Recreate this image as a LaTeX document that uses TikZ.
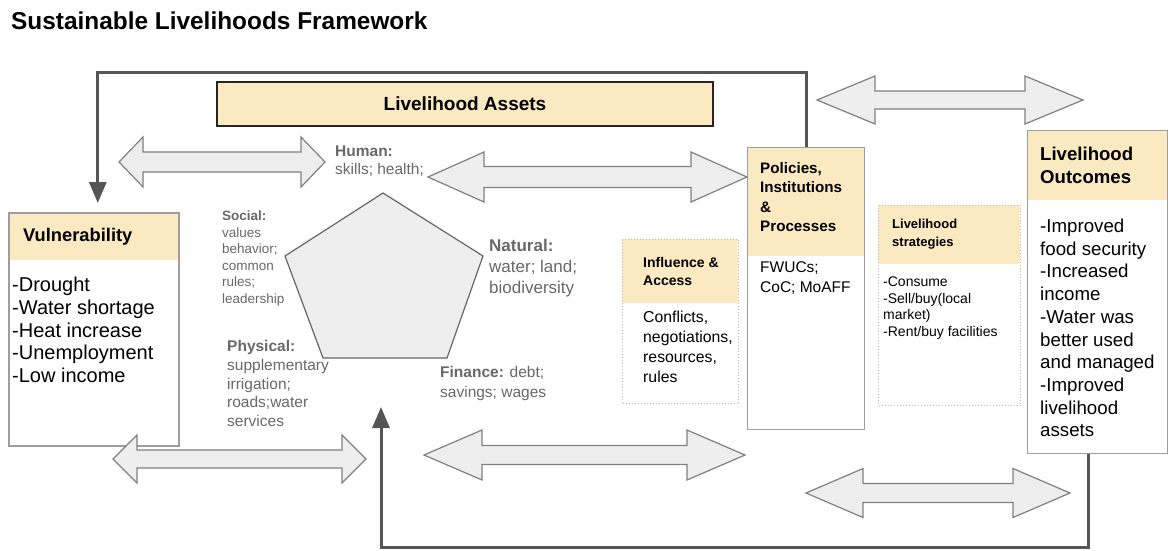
\documentclass[tikz,border=0pt]{standalone}
\usepackage{fontspec}
\setmainfont{Liberation Sans}
\usetikzlibrary{arrows.meta}
\definecolor{tan}{HTML}{FBE9C2}
\definecolor{boxgray}{HTML}{9E9E9E}
\definecolor{dotgray}{HTML}{BDBDBD}
\definecolor{labelgray}{HTML}{686868}
\definecolor{arrowfill}{HTML}{EEEEEE}
\definecolor{arrowline}{HTML}{808080}
\definecolor{loopgray}{HTML}{555555}
\tikzset{frame/.style={draw=boxgray, line width=1.6pt, anchor=north west, inner sep=0pt},
         dotframe/.style={draw=dotgray, dotted, line width=1pt, anchor=north west, inner sep=0pt},
         head/.style={fill=tan, anchor=north west, inner sep=0pt},
         txt/.style={anchor=west, align=left, inner sep=0pt},
         asset/.style={txt, text=labelgray},
         twoway/.style={draw=arrowline, fill=arrowfill, line width=1.2pt},
         pentagon/.style={draw=black!60, fill=arrowfill, line width=1.2pt},
         feedback/.style={draw=loopgray, line width=3pt, -{Triangle[length=21pt,width=17pt]}}}
\newcommand{\swaparrow}[6]{%
  \draw[twoway] (#1,#3) -- ({#1+#4},{#3-#5}) -- ({#1+#4},{#3-#6}) -- ({#2-#4},{#3-#6})
    -- ({#2-#4},{#3-#5}) -- (#2,#3) -- ({#2-#4},{#3+#5}) -- ({#2-#4},{#3+#6})
    -- ({#1+#4},{#3+#6}) -- ({#1+#4},{#3+#5}) -- cycle;}

\begin{document}
\begin{tikzpicture}[x=1pt, y=-1pt]
                    \useasboundingbox (0,0) rectangle (1168,550);

                    \node[anchor=base west, inner sep=0pt, font=\bfseries\fontsize{24.4}{28}\selectfont] (title) at (11,29) {Sustainable Livelihoods Framework};

                    \node[draw=black!85, line width=2.2pt, fill=tan, minimum width=496, minimum height=44, font=\bfseries\fontsize{19}{22}\selectfont] (assets) at (465,104) {Livelihood Assets};

                    \node[head, minimum width=170, minimum height=48] (vulnHead) at (8,212) {};
                    \node[frame, minimum width=170, minimum height=233] (vuln) at (8,212) {};
                    \node[txt, font=\bfseries\fontsize{18.3}{22}\selectfont] (vulnTitle) at (23,237) {Vulnerability};
                    \node[txt, font=\fontsize{20}{22.6}\selectfont] (vulnList) at (12,330) {-Drought\\-Water shortage\\-Heat increase\\-Unemployment\\-Low income};

                    \node[head, minimum width=117, minimum height=109] (polHead) at (747,147) {};
                    \node[frame, line width=1.3pt, minimum width=117, minimum height=282] (pol) at (747,147) {};
                    \node[txt, font=\bfseries\fontsize{15.2}{19.3}\selectfont] (polTitle) at (760,197) {Policies,\\Institutions\\\&\\Processes};
                    \node[txt, font=\fontsize{15.5}{20}\selectfont] (polList) at (760,278) {FWUCs;\\CoC; MoAFF};

                    \node[head, minimum width=140, minimum height=70] (outcHead) at (1027,130) {};
                    \node[frame, line width=1.3pt, minimum width=140, minimum height=323] (outc) at (1027,130) {};
                    \node[txt, font=\bfseries\fontsize{18.6}{23}\selectfont] (outcTitle) at (1040,165.5) {Livelihood\\Outcomes};
                    \node[txt, font=\fontsize{18.7}{22.7}\selectfont] (outcList) at (1040,328) {-Improved\\food security\\-Increased\\income\\-Water was\\better used\\and managed\\-Improved\\livelihood\\assets};

                    \node[head, minimum width=116, minimum height=64] (inflHead) at (622,239) {};
                    \node[dotframe, minimum width=116, minimum height=164] (infl) at (622,239) {};
                    \node[txt, font=\bfseries\fontsize{14}{18}\selectfont] (inflTitle) at (643,271) {Influence \&\\Access};
                    \node[txt, font=\fontsize{15.8}{20}\selectfont] (inflList) at (643,347) {Conflicts,\\negotiations,\\resources,\\rules};

                    \node[head, minimum width=142, minimum height=59] (stratHead) at (878,205) {};
                    \node[dotframe, minimum width=142, minimum height=200] (strat) at (878,205) {};
                    \node[txt, font=\bfseries\fontsize{13}{18}\selectfont] (stratTitle) at (892,234) {Livelihood\\strategies};
                    \node[txt, font=\fontsize{14}{16.7}\selectfont] (stratList) at (883,308) {-Consume\\-Sell/buy(local\\market)\\-Rent/buy facilities};

                    \draw[pentagon] (383,193) -- (483,256) -- (447,358) -- (323,358) -- (285,256) -- cycle;

                    \node[asset, font=\fontsize{15.5}{18}\selectfont] (human) at (335,161) {\textbf{Human:}\\skills; health;};
                    \node[asset, font=\fontsize{13.5}{16.6}\selectfont] (social) at (222,258.5) {\textbf{Social:}\\values\\behavior;\\common\\rules;\\leadership};
                    \node[asset, font=\fontsize{17}{21}\selectfont] (natural) at (489,268) {\textbf{Natural:}\\water; land;\\biodiversity};
                    \node[asset, font=\fontsize{15.5}{18.7}\selectfont] (physical) at (227,383.5) {\textbf{Physical:}\\supplementary\\irrigation;\\roads;water\\services};
                    \node[asset, font=\fontsize{15.5}{20}\selectfont] (finance) at (440,383) {\textbf{Finance:} debt;\\savings; wages};

                    \swaparrow{119}{325}{162}{24}{25}{10}
                    \swaparrow{428}{747}{177}{56}{25}{10.5}
                    \swaparrow{817}{1083}{100}{58}{24}{9}
                    \swaparrow{113}{366}{459}{24}{24}{9}
                    \swaparrow{424}{745}{455}{58}{25}{9.5}
                    \swaparrow{806}{1070}{493}{57}{24.5}{9.5}

                    \coordinate (assetFoot) at (381,407);

                    \draw[feedback, shorten >=9pt] (pol.north) -- ++(0,-75) -| ([xshift=4pt]vuln.north);
                    \draw[feedback] ([xshift=-9pt]outc.south) -- ++(0,93) -| (assetFoot);

\end{tikzpicture}
\end{document}
